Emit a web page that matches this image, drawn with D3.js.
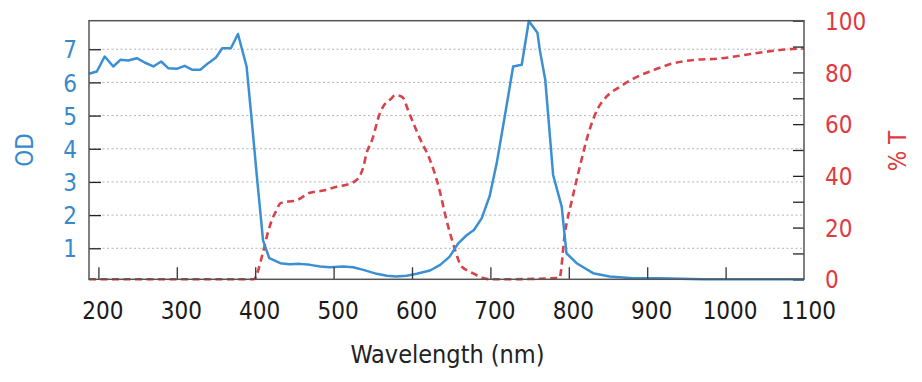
<!DOCTYPE html>
<html><head><meta charset="utf-8">
<script src="https://cdn.jsdelivr.net/npm/d3@7"></script>
<style>
html,body{margin:0;padding:0;background:#fff;}
svg text{font-family:"DejaVu Sans Condensed","DejaVu Sans",sans-serif;font-stretch:condensed;}
</style></head>
<body><svg id="c" width="922" height="382"></svg>
<script>
// Blue curve: optical density
const wavelengthOD = [188,198,208,219,228,238,249,259,270,280,289,300,310,320,330,340,350,358,369,378,389,395,402,410,418,432,444,457,470,483,495,512,525,538,555,568,580,593,606,623,636,648,659,670,679,689,699,708,719,729,740,749,760,763,770,780,791,797,810,831,852,882,916,971,1100];
const od = [6.26,6.33,6.78,6.48,6.68,6.66,6.73,6.6,6.48,6.63,6.43,6.41,6.5,6.38,6.38,6.58,6.75,7.03,7.03,7.46,6.48,5.0,3.2,1.24,0.70,0.55,0.52,0.53,0.50,0.45,0.43,0.45,0.43,0.35,0.23,0.17,0.15,0.17,0.23,0.33,0.5,0.75,1.15,1.4,1.55,1.91,2.57,3.56,5.07,6.48,6.53,7.85,7.5,6.98,6.07,3.21,2.25,0.85,0.55,0.25,0.15,0.1,0.1,0.07,0.07];
// Red dashed curve: % transmission
const wavelengthT = [188,398,410,417,423,426,432,436,449,453,470,487,504,508,527,538,542,549,559,563,574,578,585,589,595,610,623,634,644,655,662,670,678,690,700,708,788,795,804,814,825,836,848,865,887,908,933,959,993,1023,1052,1078,1100];
const transmission = [0,0,10.5,19,24.2,26,29.4,29.8,30.3,30.6,33.5,34.3,35.8,36,37.9,43.5,48.7,53.8,64.2,66.7,70,71.2,70.9,70,65.4,54.5,46.1,35.8,22.9,11.3,5.5,3.5,2.3,0.6,0,0,0.5,17.8,30.6,43.5,56.4,65.4,70.6,74.4,78.3,80.9,83.5,84.8,85.4,86.7,88,88.9,89.3];
const xTicks = [200,300,400,500,600,700,800,900,1000,1100];
const odTicks = [1,2,3,4,5,6,7];
const tTicks = [0,10,20,30,40,50,60,70,80,90,100];
const tLabels = [0,20,40,60,80,100];

const L=89,R=804,T=20.7,B=279.3;
const blue="#3b8fd3", red="#d9424a", blueTxt="#3a88cc", redTxt="#e03a40";
const svg=d3.select("#c");
const x=d3.scaleLinear().domain([188,1100]).range([L,R]);
const yOD=d3.scaleLinear().domain([0.065,7.86]).range([B,T]);
const yT=d3.scaleLinear().domain([0,100]).range([B,T]);

// grid
svg.append("g").selectAll("line").data(odTicks).join("line")
  .attr("x1",L).attr("x2",R).attr("y1",d=>yOD(d)).attr("y2",d=>yOD(d))
  .attr("stroke","#b4b4b4").attr("stroke-width",1).attr("stroke-dasharray","2,2.5");

// lines
const lineT=d3.line().x((d,i)=>x(wavelengthT[i])).y(d=>yT(d)).curve(d3.curveMonotoneX);
const lineOD=d3.line().x((d,i)=>x(wavelengthOD[i])).y(d=>yOD(d));
svg.append("path").datum(transmission).attr("d",lineT).attr("fill","none")
  .attr("stroke",red).attr("stroke-width",2.6).attr("stroke-dasharray","7,4.5");
svg.append("path").datum(od).attr("d",lineOD).attr("fill","none")
  .attr("stroke",blue).attr("stroke-width",2.5).attr("stroke-linejoin","round");

// axes
const fs=24;
const gx=svg.append("g").attr("transform",`translate(0,${B})`)
  .call(d3.axisBottom(x).tickValues(xTicks).tickSize(-12).tickFormat(d3.format("d")));
gx.selectAll(".tick line").attr("stroke","#333").attr("stroke-width",1.3)
  .filter(d=>d===1100).remove();
gx.selectAll("text").attr("y",40).attr("dy",0).attr("dx",4).attr("fill","#1a1a1a").style("font-size",fs+"px");

const gl=svg.append("g").attr("transform",`translate(${L},0)`)
  .call(d3.axisLeft(yOD).tickValues(odTicks).tickSize(-12).tickPadding(12).tickFormat(d3.format("d")));
gl.selectAll(".tick line").attr("stroke","#222").attr("stroke-width",1.3);
gl.selectAll("text").attr("fill",blueTxt).attr("dy","0.36em").style("font-size",fs+"px");

const gr=svg.append("g").attr("transform",`translate(${R},0)`)
  .call(d3.axisRight(yT).tickValues(tTicks).tickSize(-11).tickPadding(21)
    .tickFormat(d=>tLabels.includes(d)?d:""));
gr.selectAll(".tick line").attr("stroke","#222").attr("stroke-width",1.3);
gr.selectAll("text").attr("fill",redTxt).attr("dy","0.36em").style("font-size",fs+"px");

svg.selectAll(".domain").remove();
// frame
svg.append("rect").attr("x",L).attr("y",T).attr("width",R-L).attr("height",B-T)
  .attr("fill","none").attr("stroke","#555").attr("stroke-width",1.5);

// titles
svg.append("text").attr("x",447.5).attr("y",363).attr("text-anchor","middle")
  .attr("fill","#222").style("font-size","25px").text("Wavelength (nm)");
svg.append("text").attr("transform","translate(33,150) rotate(-90)").attr("text-anchor","middle")
  .attr("fill",blueTxt).style("font-size","24px").text("OD");
svg.append("text").attr("transform","translate(906,151) rotate(-90)").attr("text-anchor","middle")
  .attr("fill",redTxt).style("font-size","24px").text("% T");
</script></body></html>
